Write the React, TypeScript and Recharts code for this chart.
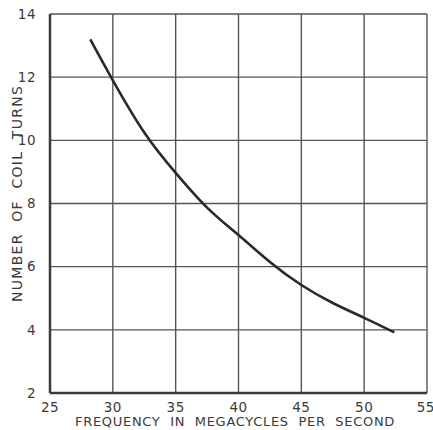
import { LineChart, Line, XAxis, YAxis, CartesianGrid } from 'recharts';

// frequency (Mc) vs number of coil turns
const frequency = [28.2, 30, 32.5, 35, 37.5, 40, 42.5, 45, 47.5, 50, 52.4];
const turns = [13.2, 11.9, 10.25, 8.97, 7.87, 7.0, 6.15, 5.42, 4.85, 4.38, 3.92];

const xTicks = [25, 30, 35, 40, 45, 50, 55];
const yTicks = [2, 4, 6, 8, 10, 12, 14];

const data = frequency.map((f, i) => ({ f, n: turns[i] }));

const ink = '#3a3a3a';
const tickStyle = { fontSize: 13.5, fill: ink, fontFamily: 'DejaVu Sans', letterSpacing: 0.5 };
const labelStyle = { fill: ink, fontFamily: 'DejaVu Sans', whiteSpace: 'pre' as const };

// axis titles drawn from the start so the spacing can't shift them
const YTitle = () => (
    <text x={22} y={302} transform="rotate(-90 22 302)" textAnchor="start" style={{ ...labelStyle, fontSize: 14, letterSpacing: 1.3 }}>
        {'NUMBER  OF  COIL  TURNS'}
    </text>
);

const XTitle = () => (
    <text x={75} y={426} textAnchor="start" style={{ ...labelStyle, fontSize: 13, letterSpacing: 0.7 }}>
        {'FREQUENCY  IN  MEGACYCLES  PER  SECOND'}
    </text>
);

export default function App() {
    return (
        <div style={{ position: 'absolute', left: 0, top: 0, background: '#fff' }}>
            <LineChart
                width={433}
                height={430}
                data={data}
                margin={{ top: 14, right: 6, bottom: 0, left: 0 }}
            >
                <CartesianGrid stroke="#555" strokeWidth={1.4} horizontalValues={yTicks} verticalValues={xTicks} />
                <XAxis
                    dataKey="f"
                    type="number"
                    domain={[25, 55]}
                    ticks={xTicks}
                    tickLine={false}
                    axisLine={{ stroke: ink, strokeWidth: 2.5 }}
                    tick={tickStyle}
                    tickMargin={3}
                    height={37}
                    label={{ content: XTitle }}
                />
                <YAxis
                    type="number"
                    domain={[2, 14]}
                    ticks={yTicks}
                    tickLine={false}
                    axisLine={{ stroke: ink, strokeWidth: 2.5 }}
                    tick={tickStyle}
                    tickMargin={8}
                    width={50}
                    label={{ content: YTitle }}
                />
                <Line
                    dataKey="n"
                    type="natural"
                    stroke="#2a2a2a"
                    strokeWidth={2.6}
                    dot={false}
                    isAnimationActive={false}
                />
            </LineChart>
        </div>
    );
}
